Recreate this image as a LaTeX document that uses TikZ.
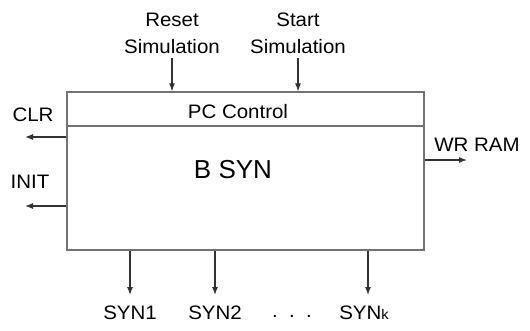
\documentclass[tikz,border=0pt]{standalone}
\usepackage{fontspec}
\setmainfont{Liberation Sans}
\newfontfamily\labfont[FakeStretch=1.05]{Liberation Sans}
\usetikzlibrary{arrows.meta}
\begin{document}
\begin{tikzpicture}[x=1pt,y=-1pt,
  lab/.style={font=\labfont\fontsize{19.5}{27}\selectfont, inner sep=0pt, align=center, text=black},
  blk/.style={draw=black!55, line width=1.4pt, minimum width=357pt, inner sep=0pt},
  arr/.style={draw=black!80, line width=1.1pt, -{Latex[length=8pt,width=6pt]}}]
\useasboundingbox (0,0) rectangle (530,330);
% blocks
\node[blk, minimum height=34pt] (pc) at (245.5,109) {};
\node[blk, minimum height=124pt] (bsyn) at (245.5,188) {};
\node[lab] (pct) at (238,112) {PC Control};
\node[lab, font=\fontsize{26}{30}\selectfont] (bst) at (233,170) {B SYN};
% top inputs
\node[lab] (rst) at (172,33) {Reset\\Simulation};
\node[lab] (sst) at (298,33) {Start\\Simulation};
\coordinate (r0) at (172,58);
\coordinate (s0) at (298,58);
\draw[arr] (r0) -- (r0 |- pc.north);
\draw[arr] (s0) -- (s0 |- pc.north);
% left outputs
\node[lab] (clr) at (33,115) {CLR};
\node[lab] (init) at (30,182) {INIT};
\coordinate (c1) at (25,137);
\coordinate (i1) at (25,206);
\draw[arr] (c1 -| bsyn.west) -- (c1);
\draw[arr] (i1 -| bsyn.west) -- (i1);
% right output
\node[lab] (wr) at (477,145) {WR RAM};
\coordinate (w1) at (467,160);
\draw[arr] (w1 -| bsyn.east) -- (w1);
% bottom outputs
\coordinate (o1) at (130,295);
\coordinate (o2) at (215,295);
\coordinate (o3) at (368,295);
\draw[arr] (o1 |- bsyn.south) -- (o1);
\draw[arr] (o2 |- bsyn.south) -- (o2);
\draw[arr] (o3 |- bsyn.south) -- (o3);
\node[lab] (y1) at (130,313) {SYN1};
\node[lab] (y2) at (215,313) {SYN2};
\node[lab] (yd) at (292,316) {.\ \ .\ \ .};
\node[lab] (y3) at (364,313) {SYN{\fontsize{14}{14}\selectfont k}};
\end{tikzpicture}
\end{document}
